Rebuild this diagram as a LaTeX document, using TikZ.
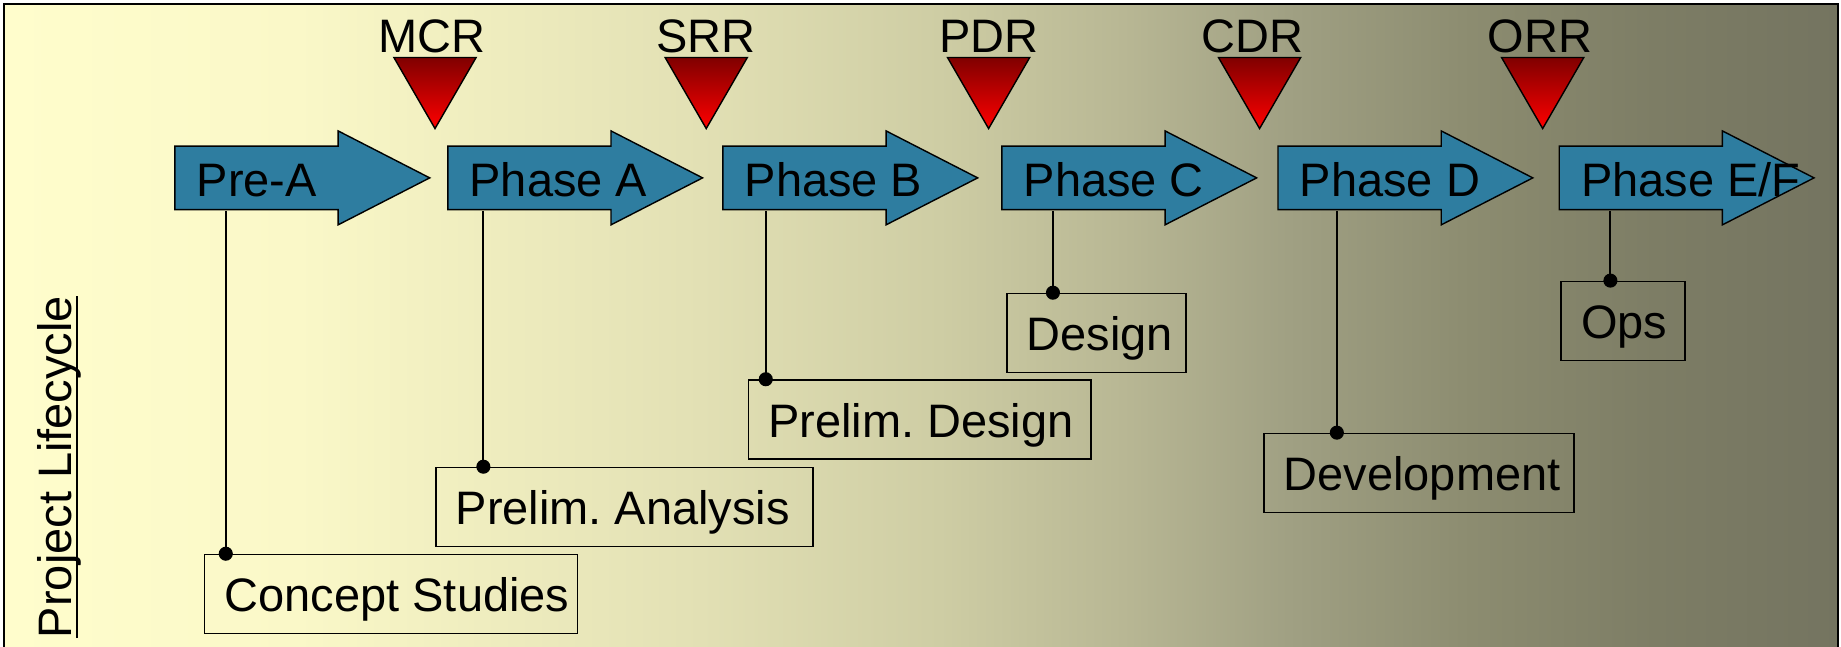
\documentclass[tikz,border=0pt]{standalone}
\usepackage{fontspec}
\setmainfont{Liberation Sans}
\usetikzlibrary{calc}
\frenchspacing
\definecolor{arrowblue}{RGB}{46,125,160}
\definecolor{trtop}{RGB}{128,0,0}
\definecolor{trbot}{RGB}{255,0,0}
\definecolor{bga}{RGB}{255,253,204}
\definecolor{bgb}{RGB}{250,248,200}
\definecolor{bgc}{RGB}{226,224,180}
\definecolor{bgd}{RGB}{206,205,164}
\definecolor{bge}{RGB}{184,183,148}
\definecolor{bgf}{RGB}{160,160,131}
\definecolor{bgg}{RGB}{140,140,112}
\definecolor{bgh}{RGB}{125,125,101}
\definecolor{bgi}{RGB}{116,116,96}
\pgfdeclarehorizontalshading{bgshade}{100bp}{color(0bp)=(bga); color(25bp)=(bga); color(33bp)=(bgb); color(44bp)=(bgc); color(50.5bp)=(bgd); color(55.5bp)=(bge); color(60bp)=(bgf); color(65bp)=(bgg); color(70bp)=(bgh); color(75bp)=(bgi); color(100bp)=(bgi)}
\newcommand\bigf{\fontsize{40}{48}\selectfont}
\newcommand\myul[1]{\setbox0\hbox{#1}\rlap{\rule[-5.7pt]{\wd0}{1.8pt}}\box0}
\newcommand\boxtext[2]{\makebox[#1][l]{\hspace*{17pt}#2}}
\newcommand\phasearrow[3]{%
  \path[arrowst] (#2,124.5) -- ++(139,0) -- ++(0,-13) -- ++(78,40) -- ++(-78,40) -- ++(0,-13) -- ++(-139,0) -- cycle
    node[shaft] (#1) at (#2,124.5) {\makebox[139pt][l]{\hspace*{18pt}#3}};%
}
\begin{document}
\begin{tikzpicture}[x=1pt,y=-1pt,font=\bigf,
  arrowst/.style={fill=arrowblue,draw=black,line width=1.2pt,line join=miter},
  shaft/.style={anchor=north west,minimum width=139pt,minimum height=54pt,inner sep=0pt,text height=31pt,text depth=0pt},
  stagebox/.style={draw=black,line width=1.2pt,anchor=north west,minimum height=67.5pt,inner sep=0pt,text height=30pt,text depth=0pt},
  dot/.style={circle,fill=black,inner sep=0pt,minimum size=12pt},
  conn/.style={draw=black,line width=1.6pt},
  tri/.style={top color=trtop,bottom color=trbot,draw=black,line width=1.2pt,line join=miter},
  review/.style={anchor=base,inner sep=0pt}]
\useasboundingbox (0,0) rectangle (1568,551);
\fill[white] (0,0) rectangle (1568,551);
\shade[shading=bgshade] (3.4,3.4) rectangle (1565.5,560);
\draw[line width=2pt] (3.4,560) -- (3.4,3.4) -- (1565.5,3.4) -- (1565.5,560);

% phase arrows
\phasearrow{pre}{149}{Pre-A}
\phasearrow{pa}{381.4}{Phase A}
\phasearrow{pb}{615.7}{Phase B}
\phasearrow{pc}{853.3}{Phase C}
\phasearrow{pd}{1088.5}{Phase D}
\phasearrow{pef}{1328}{Phase E/F}

% stage boxes
\node[stagebox] (cs) at (173.8,471.6) {\boxtext{317.4pt}{Concept Studies}};
\node[stagebox] (pan) at (370.6,397.5) {\boxtext{321.4pt}{Prelim. Analysis}};
\node[stagebox] (pdes) at (636.7,323) {\boxtext{291.8pt}{Prelim. Design}};
\node[stagebox] (des) at (857,249.3) {\boxtext{152.4pt}{Design}};
\node[stagebox] (dev) at (1075.8,368.5) {\boxtext{264.1pt}{Development}};
\node[stagebox] (ops) at (1329,239) {\boxtext{105.4pt}{Ops}};

% dots
\node[dot] (d1) at (192.3,471.6) {};
\node[dot] (d2) at (411.7,397.5) {};
\node[dot] (d3) at (652.2,323) {};
\node[dot] (d4) at (896.8,249.3) {};
\node[dot] (d5) at (1138.6,368.5) {};
\node[dot] (d6) at (1371.6,239) {};

% connectors
\draw[conn] (pre.south -| d1) -- (d1.center);
\draw[conn] (pa.south -| d2) -- (d2.center);
\draw[conn] (pb.south -| d3) -- (d3.center);
\draw[conn] (pc.south -| d4) -- (d4.center);
\draw[conn] (pd.south -| d5) -- (d5.center);
\draw[conn] (pef.south -| d6) -- (d6.center);

% review triangles
\shadedraw[tri] (335.5,49) -- (405.5,49) -- (370.5,109.5) -- cycle;
\shadedraw[tri] (566.5,49) -- (636.5,49) -- (601.5,109.5) -- cycle;
\shadedraw[tri] (807,49) -- (877,49) -- (842,109.5) -- cycle;
\shadedraw[tri] (1037.8,49) -- (1107.8,49) -- (1072.8,109.5) -- cycle;
\shadedraw[tri] (1278.9,49) -- (1348.9,49) -- (1313.9,109.5) -- cycle;

% review labels
\node[review] (mcr) at (367.6,44.5) {MCR};
\node[review] (srr) at (601.3,44.5) {SRR};
\node[review] (pdr) at (842.5,44.5) {PDR};
\node[review] (cdr) at (1067,44.5) {CDR};
\node[review] (orr) at (1311.5,44.5) {ORR};

% side title
\node[rotate=90,anchor=base west,inner sep=0pt] (pl) at (61,543.6) {\myul{Project Lifecycle}};
\end{tikzpicture}
\end{document}
